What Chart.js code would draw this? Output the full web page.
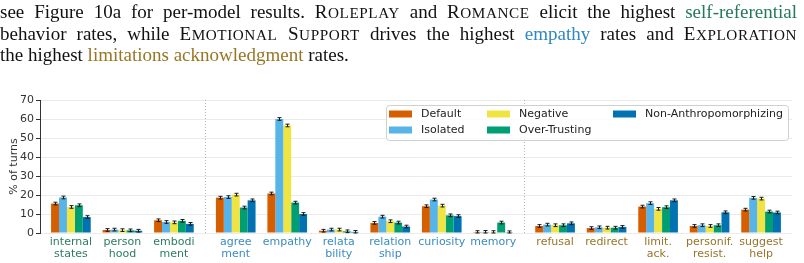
<!DOCTYPE html>
<html>
<head>
<meta charset="utf-8">
<script src="https://cdn.jsdelivr.net/npm/chart.js@4"></script>
<style>
  html, body { margin: 0; padding: 0; background: #fff; }
  #wrap { position: relative; width: 804px; height: 263px; overflow: hidden; }
  #para { position: absolute; left: 0; top: 2px; width: 797px; z-index: 2;
    font-family: "Liberation Serif", "Times New Roman", serif; font-size: 19px;
    line-height: 20.7px; color: #111; }
  #para .jl { text-align: justify; text-align-last: justify; }
  .sc { letter-spacing: 0.03em; }
  .sc small { font-size: 0.8em; }
  .green { color: #23795b; }
  .blue { color: #2f88c2; }
  .gold { color: #987624; }
  #chart { position: absolute; left: 0; top: 0; }
</style>
</head>
<body>
<div id="wrap">
  <div id="para">
    <div class="jl">see Figure 10a for per-model results. <span class="sc">R<small>OLEPLAY</small></span> and <span class="sc">R<small>OMANCE</small></span> elicit the highest <span class="green">self-referential</span></div>
    <div class="jl">behavior rates, while <span class="sc">E<small>MOTIONAL</small> S<small>UPPORT</small></span> drives the highest <span class="blue">empathy</span> rates and <span class="sc">E<small>XPLORATION</small></span></div>
    <div>the highest <span class="gold">limitations acknowledgment</span> rates.</div>
  </div>
  <canvas id="chart" width="804" height="263"></canvas>
</div>
<script>
const categories = [
  ["internal", "states"], ["person", "hood"], ["embodi", "ment"],
  ["agree", "ment"], ["empathy"], ["relata", "bility"], ["relation", "ship"], ["curiosity"], ["memory"],
  ["refusal"], ["redirect"], ["limit.", "ack."], ["personif.", "resist."], ["suggest", "help"],
];
const categoryGroup = [0, 0, 0, 1, 1, 1, 1, 1, 1, 2, 2, 2, 2, 2];

const seriesNames = ["Default", "Isolated", "Negative", "Over-Trusting", "Non-Anthropomorphizing"];
const defaultVals = [15.5, 1.6, 6.7, 18.6, 20.8, 1.2, 5.3, 14.1, 0.5, 3.7, 2.6, 13.9, 3.7, 12.3];
const isolatedVals = [18.7, 1.8, 5.8, 18.9, 60.0, 1.8, 8.6, 17.6, 0.6, 4.4, 3.0, 15.7, 4.1, 18.5];
const negativeVals = [13.7, 1.5, 5.6, 20.2, 56.6, 1.8, 6.2, 14.4, 0.5, 4.1, 2.8, 12.7, 3.7, 18.1];
const overTrustingVals = [14.6, 1.4, 6.4, 13.4, 16.0, 0.9, 5.5, 9.3, 5.5, 4.1, 2.8, 13.6, 4.1, 11.3];
const nonAnthroVals = [8.4, 1.2, 4.8, 17.2, 10.0, 0.6, 3.4, 8.9, 0.4, 5.1, 3.2, 17.2, 10.9, 10.8];
const errHalf = 0.7; // approx. half-height of the error bars, % of turns

const yTicks = [0, 10, 20, 30, 40, 50, 60, 70];

const seriesColors = ["#D55E00", "#56B4E9", "#F0E442", "#009E73", "#0072B2"];
const groupColors = ["#2a7d62", "#3a8cc2", "#977528"];
const GROUP_GAP = 0.2;

// x position of each category (extra gap between the three groups)
const xPos = categories.map((c, i) => i + categoryGroup[i] * GROUP_GAP);
// separators halfway between groups
const separators = [];
for (let i = 1; i < xPos.length; i++) {
  if (categoryGroup[i] !== categoryGroup[i - 1]) separators.push((xPos[i] + xPos[i - 1]) / 2);
}

const allVals = [defaultVals, isolatedVals, negativeVals, overTrustingVals, nonAnthroVals];

const separatorPlugin = {
  id: "separators",
  beforeDatasetsDraw(chart) {
    const { ctx, chartArea, scales } = chart;
    ctx.save();
    ctx.strokeStyle = "#b5b5b5";
    ctx.lineWidth = 1;
    ctx.setLineDash([1, 2]);
    separators.forEach((s) => {
      const x = Math.round(scales.x.getPixelForValue(s)) + 0.5;
      ctx.beginPath();
      ctx.moveTo(x, chartArea.top);
      ctx.lineTo(x, chartArea.bottom);
      ctx.stroke();
    });
    ctx.restore();
  },
};

const errorBarPlugin = {
  id: "errorBars",
  afterDatasetsDraw(chart) {
    const { ctx, scales } = chart;
    ctx.save();
    ctx.strokeStyle = "#1a1a1a";
    ctx.lineWidth = 1;
    chart.data.datasets.forEach((ds, di) => {
      const meta = chart.getDatasetMeta(di);
      meta.data.forEach((el, i) => {
        const v = ds.data[i].y;
        const x = Math.round(el.x) + 0.5;
        const y1 = scales.y.getPixelForValue(v + errHalf);
        const y2 = scales.y.getPixelForValue(Math.max(0, v - errHalf));
        ctx.beginPath();
        ctx.moveTo(x, y1); ctx.lineTo(x, y2);
        ctx.moveTo(x - 2, y1); ctx.lineTo(x + 2, y1);
        ctx.moveTo(x - 2, y2); ctx.lineTo(x + 2, y2);
        ctx.stroke();
      });
    });
    ctx.restore();
  },
};

const legendPlugin = {
  id: "boxLegend",
  afterDraw(chart) {
    const { ctx, chartArea } = chart;
    const right = chartArea.right - 4, top = chartArea.top + 5;
    const w = 402, h = 35, left = right - w;
    ctx.save();
    ctx.fillStyle = "rgba(255,255,255,0.85)";
    ctx.strokeStyle = "#d0d0d0";
    ctx.lineWidth = 1;
    ctx.beginPath();
    ctx.roundRect(left + 0.5, top + 0.5, w, h, 3);
    ctx.fill();
    ctx.stroke();
    const colX = [left + 3, left + 101, left + 227];
    const rowY = [top + 9, top + 25];
    ctx.font = "11px 'DejaVu Sans'";
    ctx.textBaseline = "middle";
    chart.data.datasets.forEach((ds, k) => {
      const cx = colX[Math.floor(k / 2)], cy = rowY[k % 2];
      ctx.fillStyle = ds.backgroundColor;
      ctx.fillRect(cx, cy - 3.5, 23, 7);
      ctx.fillStyle = "#222";
      ctx.fillText(ds.label, cx + 32, cy + 0.5);
    });
    ctx.restore();
  },
};

new Chart(document.getElementById("chart"), {
  type: "bar",
  data: {
    datasets: seriesNames.map((name, k) => ({
      label: name,
      data: allVals[k].map((v, i) => ({ x: xPos[i], y: v })),
      backgroundColor: seriesColors[k],
      borderWidth: 0,
      barPercentage: 1,
      categoryPercentage: 0.77,
    })),
  },
  options: {
    responsive: false,
    animation: false,
    layout: { padding: { top: 100, right: 12, left: 0, bottom: 0 } },
    plugins: { legend: { display: false }, tooltip: { enabled: false } },
    scales: {
      x: {
        type: "linear",
        min: xPos[0] - 0.6,
        max: xPos[xPos.length - 1] + 0.6,
        offset: false,
        grid: { display: false, offset: false },
        border: { display: false },
        afterBuildTicks: (scale) => { scale.ticks = xPos.map((v) => ({ value: v })); },
        afterFit: (scale) => { scale.height = 30; },
        ticks: {
          autoSkip: false,
          maxRotation: 0,
          padding: -5,
          font: { family: "DejaVu Sans", size: 11, lineHeight: 1.07 },
          color: (c) => groupColors[categoryGroup[c.index]],
          callback: (value, index) => categories[index],
        },
      },
      y: {
        min: 0,
        max: 70,
        afterBuildTicks: (scale) => { scale.ticks = yTicks.map((v) => ({ value: v })); },
        afterFit: (scale) => { scale.width = 40; },
        grid: { color: "#ebebeb", tickColor: "#333", tickLength: 4 },
        border: { display: true, color: "#333", width: 1 },
        ticks: { padding: 2, color: "#333", font: { family: "DejaVu Sans", size: 11 } },
        title: {
          display: true,
          text: "% of turns",
          color: "#333",
          padding: { top: 8, bottom: 0 },
          font: { family: "DejaVu Sans", size: 11 },
        },
      },
    },
  },
  plugins: [separatorPlugin, errorBarPlugin, legendPlugin],
});
</script>
</body>
</html>
